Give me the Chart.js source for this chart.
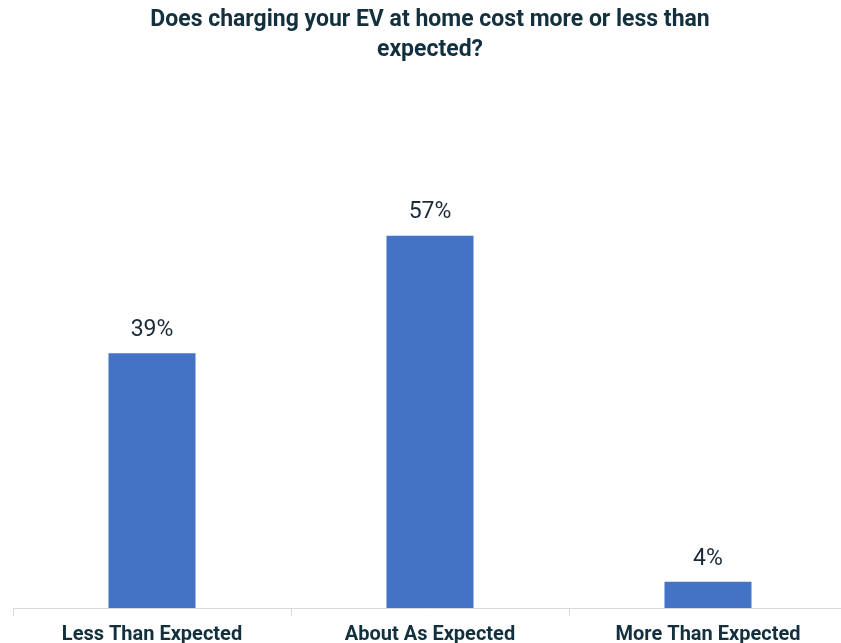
<!DOCTYPE html>
<html>
<head>
<meta charset="utf-8">
<script src="https://cdn.jsdelivr.net/npm/chart.js@4.4.1/dist/chart.umd.min.js"></script>
<style>
  html, body { margin: 0; padding: 0; background: #fff; overflow: hidden; }
  #wrap { width: 860px; height: 660px; }
</style>
</head>
<body>
<div id="wrap"><canvas id="evChart" width="860" height="660"></canvas></div>
<script>
const categories = ['Less Than Expected', 'About As Expected', 'More Than Expected'];
const shares = [39, 57, 4];
const titleLines = ['Does charging your EV at home cost more or less than', 'expected?'];

const textDark = '#12303e';

// draws the percentage above each bar
const valueLabels = {
    id: 'valueLabels',
    afterDatasetsDraw(chart) {
        const ctx = chart.ctx;
        const meta = chart.getDatasetMeta(0);
        ctx.save();
        ctx.font = '23px Roboto';
        ctx.fillStyle = '#1b2a38';
        ctx.textAlign = 'center';
        ctx.textBaseline = 'middle';
        meta.data.forEach(function(bar, i) {
            ctx.fillText(shares[i] + '%', bar.x, bar.y - 23);
        });
        ctx.restore();
    }
};

new Chart(document.getElementById('evChart'), {
    type: 'bar',
    data: {
        labels: categories,
        datasets: [{
            data: shares,
            backgroundColor: '#4472C4',
            borderWidth: 0,
            categoryPercentage: 1,
            barPercentage: 0.313
        }]
    },
    options: {
        responsive: false,
        animation: false,
        layout: { padding: { left: 13, right: 13, top: 0, bottom: 6 } },
        plugins: {
            legend: { display: false },
            tooltip: { enabled: false },
            title: {
                display: true,
                text: titleLines,
                color: textDark,
                font: { family: 'Roboto', size: 23, weight: 'bold', lineHeight: 1.3 },
                padding: { top: 5, bottom: 86 }
            }
        },
        scales: {
            y: { display: false, min: 0, max: 70 },
            x: {
                offset: true,
                border: { display: true, color: '#d9d9d9', width: 1 },
                grid: { display: true, drawOnChartArea: false, drawTicks: true, tickLength: 8, color: '#d9d9d9', offset: true },
                ticks: {
                    color: textDark,
                    font: { family: 'Roboto', size: 20, weight: 'bold' },
                    padding: 7,
                    maxRotation: 0
                }
            }
        }
    },
    plugins: [valueLabels]
});
</script>
</body>
</html>
